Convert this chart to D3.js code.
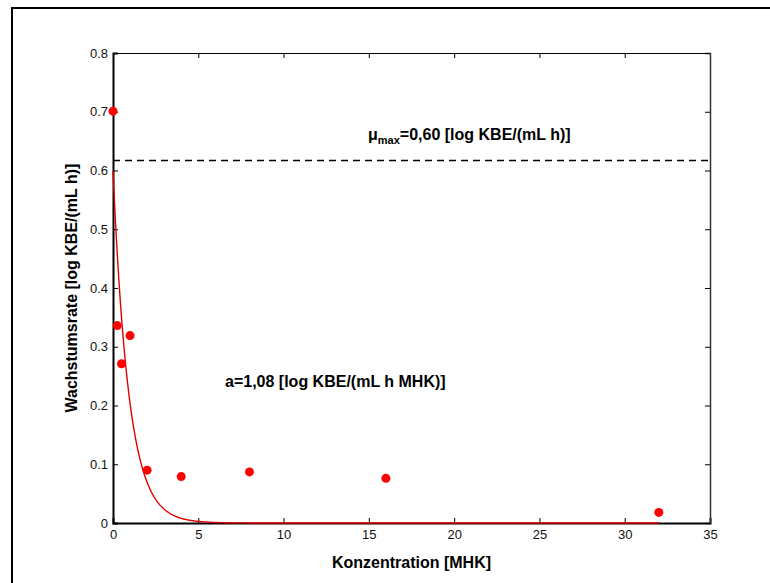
<!DOCTYPE html>
<html>
<head>
<meta charset="utf-8">
<script src="https://cdn.jsdelivr.net/npm/d3@7"></script>
<style>
    body { margin: 0; background: #fff; }
    svg text { font-family: "Liberation Sans", Arial, sans-serif; }
</style>
</head>
<body>
<div id="contents"></div>
<script>
// measured growth rates per concentration
var concentration = [0, 0.25, 0.5, 1, 2, 4, 8, 16, 32];
var growthRate    = [0.701, 0.336, 0.271, 0.319, 0.090, 0.079, 0.087, 0.076, 0.018];
var xTicks        = [0, 5, 10, 15, 20, 25, 30, 35];
var yTicks        = [0, 0.1, 0.2, 0.3, 0.4, 0.5, 0.6, 0.7, 0.8];
var muMax         = 0.60;
var aValue        = 1.08;
var controlRate   = 0.617;

window.onload = function(){
    'use strict';
    var width   = 770;
    var height  = 583;
    var margin  = {top: 53, right: 60, bottom: 60, left: 113};
    var TICK    = 5;

    var svg = d3.select('#contents').append('svg')
        .attr('width', width)
        .attr('height', height);

    // figure frame, cut by the window edge
    svg.append('path')
        .attr('d', 'M12,' + (height + 5) + 'V8H' + (width + 5))
        .attr('fill', 'none')
        .attr('stroke', '#000')
        .attr('stroke-width', 2);

    var x = d3.scaleLinear().domain([0, 35]).range([margin.left, 710]);
    var y = d3.scaleLinear().domain([0, 0.8]).range([523, margin.top]);

    var fmt = function(d){ return d === 0 ? '0' : d3.format('.1f')(d); };

    // bottom / left axes with inward ticks
    var gx = svg.append('g')
        .attr('transform', 'translate(0,' + y(0) + ')')
        .call(d3.axisBottom(x).tickValues(xTicks).tickSize(-TICK).tickPadding(7).tickFormat(d3.format('d')));
    var gy = svg.append('g')
        .attr('transform', 'translate(' + x(0) + ',0)')
        .call(d3.axisLeft(y).tickValues(yTicks).tickSize(-TICK).tickPadding(5).tickFormat(fmt));
    // top / right, ticks only
    var gt = svg.append('g')
        .attr('transform', 'translate(0,' + y(0.8) + ')')
        .call(d3.axisTop(x).tickValues(xTicks).tickSize(-TICK).tickFormat(''));
    var gr = svg.append('g')
        .attr('transform', 'translate(' + x(35) + ',0)')
        .call(d3.axisRight(y).tickValues(yTicks).tickSize(-TICK).tickFormat(''));

    [gx, gy, gt, gr].forEach(function(g){
        g.select('.domain').attr('stroke', '#000');
        g.selectAll('.tick line').attr('stroke', '#000');
        g.selectAll('text').attr('font-size', 13).attr('fill', '#111');
    });
    gx.select('.domain').attr('stroke-width', 2);
    gy.select('.domain').attr('stroke-width', 2);
    gr.select('.domain').attr('stroke-width', 1.5).attr('stroke', '#333');

    // control level
    svg.append('line')
        .attr('x1', x(0)).attr('x2', x(35))
        .attr('y1', y(controlRate)).attr('y2', y(controlRate))
        .attr('stroke', '#000')
        .attr('stroke-width', 1.3)
        .attr('stroke-dasharray', '7,5');

    // fitted model: mu = muMax * exp(-a * c)
    var model = d3.range(0, 32.001, 0.05).map(function(c){
        return [c, muMax * Math.exp(-aValue * c)];
    });
    svg.append('path')
        .datum(model)
        .attr('fill', 'none')
        .attr('stroke', '#e00000')
        .attr('stroke-width', 1.4)
        .attr('d', d3.line()
            .x(function(d){ return x(d[0]); })
            .y(function(d){ return y(d[1]); }));

    svg.append('g')
        .selectAll('circle')
        .data(concentration)
        .enter()
        .append('circle')
        .attr('cx', function(d){ return x(d); })
        .attr('cy', function(d, i){ return y(growthRate[i]); })
        .attr('r', 4.5)
        .attr('fill', '#ff0000');

    // annotations
    var mu = svg.append('text')
        .attr('x', 368).attr('y', 140)
        .attr('font-size', 16).attr('font-weight', 'bold');
    mu.append('tspan').text('μ');
    mu.append('tspan').attr('dy', 4).attr('font-size', 11).text('max');
    mu.append('tspan').attr('dy', -4).text('=0,60 [log KBE/(mL h)]');

    svg.append('text')
        .attr('x', 225).attr('y', 387)
        .attr('font-size', 16).attr('font-weight', 'bold')
        .text('a=1,08 [log KBE/(mL h MHK)]');

    svg.append('text')
        .attr('x', x(17.5)).attr('y', 568)
        .attr('text-anchor', 'middle')
        .attr('font-size', 16).attr('font-weight', 'bold')
        .text('Konzentration [MHK]');

    svg.append('text')
        .attr('transform', 'translate(77,' + y(0.4) + ') rotate(-90)')
        .attr('text-anchor', 'middle')
        .attr('font-size', 16).attr('font-weight', 'bold')
        .text('Wachstumsrate [log KBE/(mL h)]');
};
</script>
</body>
</html>
